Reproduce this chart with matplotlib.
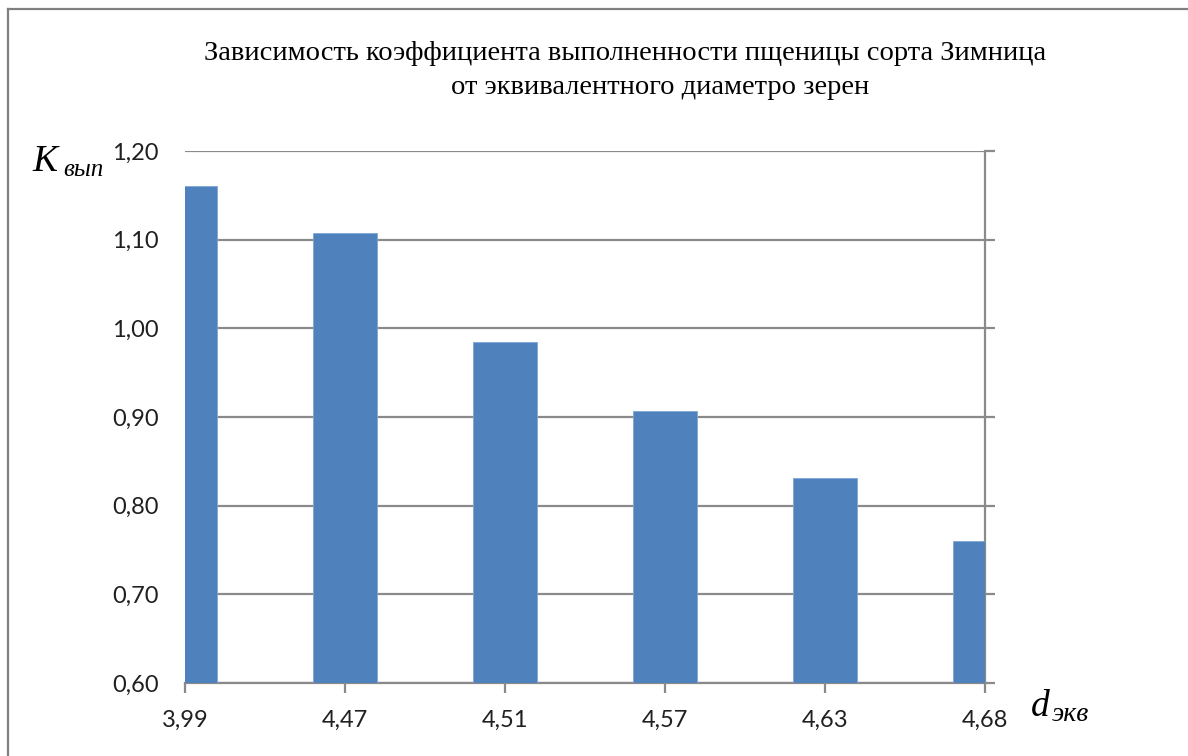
import numpy as np
import matplotlib.pyplot as plt
from matplotlib.lines import Line2D

# diameter classes and fill coefficient
d_labels = ["3,99", "4,47", "4,51", "4,57", "4,63", "4,68"]
k_values = [1.16, 1.107, 0.985, 0.907, 0.831, 0.760]
y_ticks = [0.60, 0.70, 0.80, 0.90, 1.00, 1.10, 1.20]

W, H = 1188, 756
fig = plt.figure(figsize=(W / 100, H / 100), dpi=100)
ax = fig.add_axes([185 / W, 1 - 683 / H, 800 / W, 532 / H])

grey = "#8a8a8a"
pos = np.arange(len(d_labels))
ax.bar(pos, k_values, width=0.4, bottom=0, color="#4f81bd",
       edgecolor="#7fa6d6", linewidth=0.6, zorder=3)

ax.set_xlim(0, len(d_labels) - 1)
ax.set_ylim(0.60, 1.20)
ax.set_xticks(pos)
ax.set_xticklabels(d_labels)
ax.set_yticks(y_ticks)
ax.set_yticklabels([f"{v:.2f}".replace(".", ",") for v in y_ticks])

ax.grid(axis="y", color=grey, linewidth=1.6, zorder=0)
ax.set_axisbelow(True)
for side in ("left", "top"):
    ax.spines[side].set_visible(False)
for side in ("right", "bottom"):
    ax.spines[side].set_color(grey)
    ax.spines[side].set_linewidth(1.6)

ax.tick_params(axis="y", left=False, right=True, labelleft=True, labelright=False,
               direction="out", length=7, width=1.6, color=grey, pad=12,
               labelsize=17, labelcolor="#202020")
ax.tick_params(axis="x", direction="out", length=7, width=1.6, color=grey, pad=12,
               labelsize=17, labelcolor="#202020")
for lab in ax.get_xticklabels() + ax.get_yticklabels():
    lab.set_family("Lato")

serif = "Liberation Serif"
fig.text(625 / W, 1 - 53 / H,
         "Зависимость коэффициента выполненности пщеницы сорта Зимница",
         ha="center", va="center", family=serif, fontsize=20.5)
fig.text(660 / W, 1 - 88 / H, "от эквивалентного диаметро зерен",
         ha="center", va="center", family=serif, fontsize=20.5)

# axis names with subscripts
fig.text(32 / W, 1 - 171 / H, "K", family=serif, style="italic", fontsize=27,
         ha="left", va="baseline")
fig.text(63 / W, 1 - 176 / H, "вып", family=serif, style="italic", fontsize=18,
         ha="left", va="baseline")
fig.text(1031 / W, 1 - 716 / H, "d", family=serif, style="italic", fontsize=27,
         ha="left", va="baseline")
fig.text(1052 / W, 1 - 721 / H, "экв", family=serif, style="italic", fontsize=20,
         ha="left", va="baseline")

# frame around the chart area
fig.add_artist(Line2D([8 / W, 8 / W], [0, 1 - 9 / H], color="#808080", linewidth=1.6))
fig.add_artist(Line2D([8 / W, 1], [1 - 9 / H, 1 - 9 / H], color="#808080", linewidth=1.6))

fig.savefig("out.png", dpi=100)
